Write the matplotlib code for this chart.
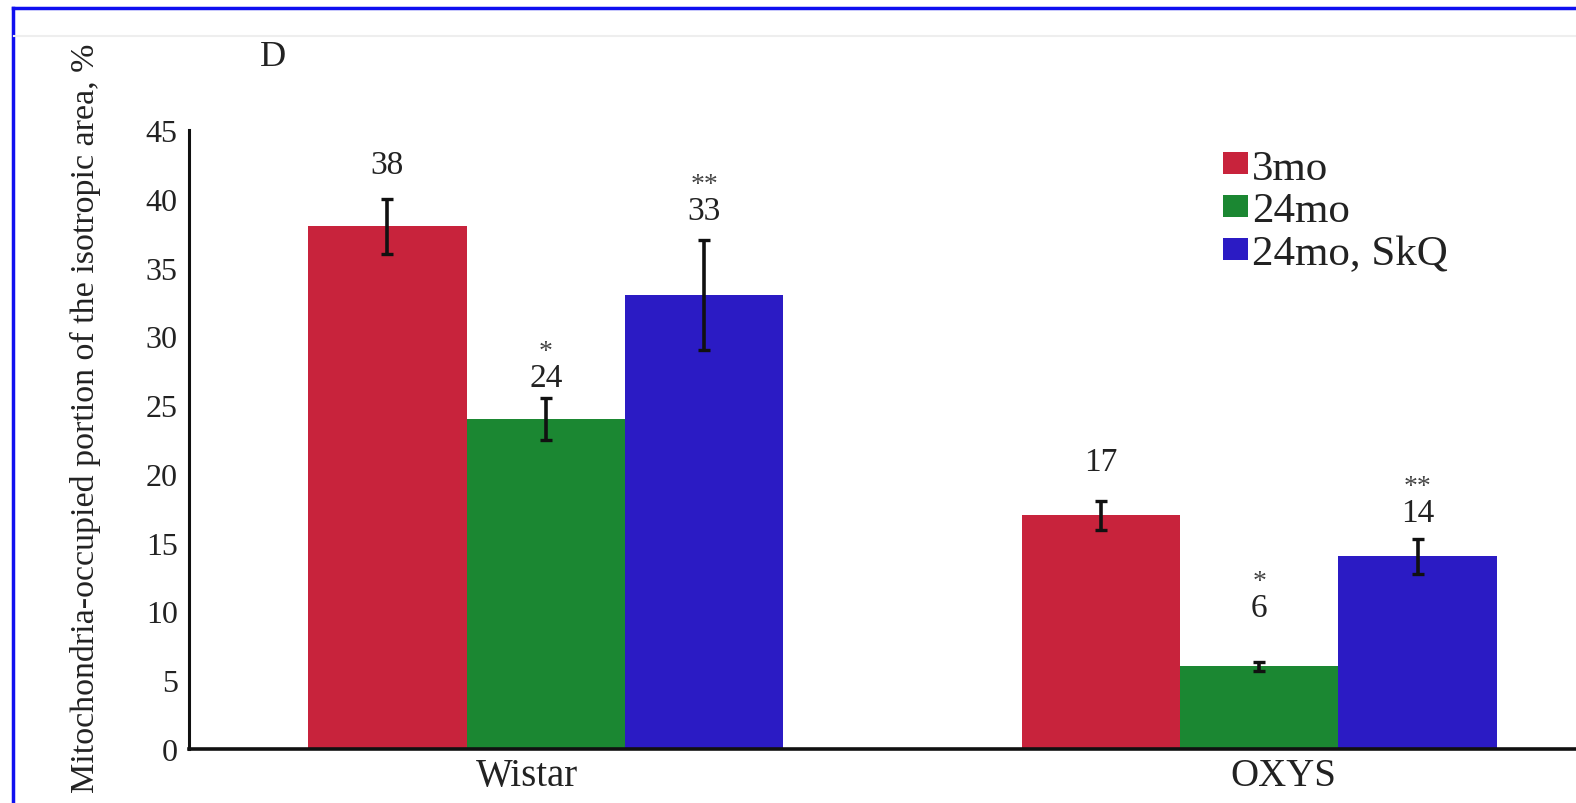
import matplotlib.pyplot as plt
import numpy as np
from matplotlib.lines import Line2D

# ---- data ----
groups = ["Wistar", "OXYS"]
series = ["3mo", "24mo", "24mo, SkQ"]
means_3mo = [38, 17]
means_24mo = [24, 6]
means_24mo_skq = [33, 14]
err_3mo = [2.0, 1.05]
err_24mo = [1.5, 0.35]
err_24mo_skq = [4.0, 1.3]
stars_3mo = ["", ""]
stars_24mo = ["*", "*"]
stars_24mo_skq = ["**", "**"]
y_ticks = [0, 5, 10, 15, 20, 25, 30, 35, 40, 45]

# ---- layout / style ----
colors = ["#C8233C", "#1B8732", "#2B1BC4"]
label_gap = [[2.5, 2.8], [1.5, 3.9], [2.1, 1.9]]  # gap above error bar, data units
tick_shift = [-0.027, 0.034]
bar_w = 0.222
font = "Liberation Serif"
txt = "#222222"

plt.rcParams["font.family"] = font

fig = plt.figure(figsize=(15.76, 8.04), dpi=100)
ax = fig.add_axes([0.1199, 0.0672, 0.8801, 0.7698])

x = np.arange(len(groups))
all_means = [means_3mo, means_24mo, means_24mo_skq]
all_errs = [err_3mo, err_24mo, err_24mo_skq]
all_stars = [stars_3mo, stars_24mo, stars_24mo_skq]

for i, name in enumerate(series):
    pos = x + (i - 1) * bar_w
    ax.bar(pos, all_means[i], width=bar_w, color=colors[i], label=name, zorder=2)
    ax.errorbar(pos, all_means[i], yerr=all_errs[i], fmt="none", ecolor="#111111",
                elinewidth=2.6, capsize=4.5, capthick=2.4, zorder=3)
    for j, p in enumerate(pos):
        top = all_means[i][j] + all_errs[i][j] + label_gap[i][j]
        ax.text(p, top, f"{all_means[i][j]}", ha="center", va="center",
                fontsize=24, color=txt)
        if all_stars[i][j]:
            ax.annotate(all_stars[i][j], (p, top), xytext=(0, 19),
                        textcoords="offset points", ha="center", va="center",
                        fontsize=20, color="#444444")

ax.set_xlim(-0.5, 1.444)
ax.set_ylim(0, 45)
ax.set_yticks(y_ticks)
ax.set_yticklabels([str(t) for t in y_ticks], fontsize=23, color=txt)
ax.set_xticks(x + np.array(tick_shift))
ax.set_xticklabels(groups, fontsize=28, color=txt)
ax.tick_params(axis="y", length=0, pad=8)
ax.tick_params(axis="x", length=0, pad=6)
for side in ["top", "right"]:
    ax.spines[side].set_visible(False)
ax.spines["left"].set_linewidth(2.2)
ax.spines["bottom"].set_linewidth(2.6)
ax.spines["left"].set_color("#111111")
ax.spines["bottom"].set_color("#111111")

fig.text(85 / 1576, 1 - 418 / 804, "Mitochondria-occupied portion of the isotropic area, %",
         rotation=90, ha="center", va="center", fontsize=24.5, color=txt)
fig.text(273 / 1576, 1 - 57 / 804, "D", ha="center", va="center", fontsize=26, color=txt)

ax.legend(loc="upper left", bbox_to_anchor=(1223 / 1576, 1 - 150 / 804),
          bbox_transform=fig.transFigure, frameon=False, fontsize=31,
          handlelength=0.58, handleheight=0.42, handletextpad=0.1,
          labelspacing=0.1, borderpad=0, borderaxespad=0, labelcolor=txt)

# blue frame and faint header line of the source image
fig.add_artist(Line2D([13 / 1576, 13 / 1576], [0, 1 - 9 / 804], color="#1010F0", lw=2.5))
fig.add_artist(Line2D([13 / 1576, 1], [1 - 9 / 804, 1 - 9 / 804], color="#1010F0", lw=2.5))
fig.add_artist(Line2D([14 / 1576, 1], [1 - 37 / 804, 1 - 37 / 804], color="#eeeeee", lw=1.5))

fig.savefig("out.png", dpi=100)
